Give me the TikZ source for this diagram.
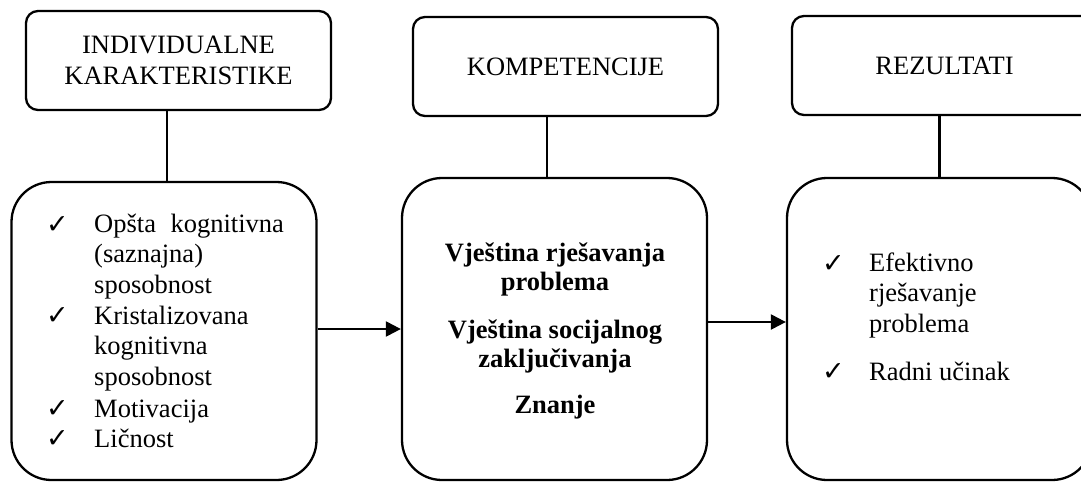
\documentclass[tikz,border=0pt]{standalone}
\usepackage{fontspec}
\setmainfont{Liberation Serif}
\newfontfamily\symfont{DejaVu Sans}
\usetikzlibrary{arrows.meta}

\newcommand{\tick}{{\symfont\fontsize{27}{27}\selectfont ✓}}

\tikzset{
  frame/.style={draw=black, line width=2.3pt, inner sep=0pt},
  headbox/.style={frame, rounded corners=12pt, minimum width=305pt, minimum height=99pt,
    align=center, font=\fontsize{26.5}{31}\selectfont},
  bodybox/.style={frame, rounded corners=40pt, minimum width=305pt},
  link/.style={draw=black, line width=2.3pt},
  flow/.style={link, -{Triangle[length=15pt, width=15pt]}},
  itemtext/.style={anchor=base west, inner sep=0pt, align=left,
    font=\fontsize{26.5}{30.5}\selectfont},
  tickmark/.style={anchor=base west, inner sep=0pt},
  boldtext/.style={anchor=base, inner sep=0pt, align=center,
    font=\bfseries\fontsize{26.5}{29}\selectfont}
}

\begin{document}
\begin{tikzpicture}[x=1pt, y=-1pt]
\useasboundingbox (0,0) rectangle (1081,482);
\clip (0,0) rectangle (1081,482);

% header boxes
\node[headbox] (t1) at (178.5,60.5) {INDIVIDUALNE\\KARAKTERISTIKE};
\node[headbox] (t2) at (565.5,66.5) {KOMPETENCIJE};
\node[headbox] (t3) at (944.5,65.5) {REZULTATI};

% body boxes
\node[bodybox, minimum height=298pt] (b1) at (164,331) {};
\node[bodybox, minimum height=302pt] (b2) at (554.5,329) {};
\node[bodybox, minimum height=302pt] (b3) at (939.5,329) {};

% vertical links between header and body
\draw[link] ([xshift=3pt]b1.north |- t1.south) -- ([xshift=3pt]b1.north);
\draw[link] ([xshift=-7.5pt]b2.north |- t2.south) -- ([xshift=-7.5pt]b2.north);
\draw[link] (b3.north |- t3.south) -- (b3.north);

% flow arrows
\draw[flow] (b1.east |- b2.west) -- (b2.west);
\draw[flow] ([yshift=7pt]b2.east) -- ([yshift=7pt]b3.west);

% individual characteristics (multi-line nodes sit on the baseline of their last line)
\node[tickmark] (c1) at (46,233) {\tick};
\node[itemtext] (i1) at (94,293) {Opšta\hspace{0.55em}kognitivna\\(saznajna)\\sposobnost};
\node[tickmark] (c2) at (46,324) {\tick};
\node[itemtext] (i2) at (94,385) {Kristalizovana\\kognitivna\\sposobnost};
\node[tickmark] (c3) at (46,417) {\tick};
\node[itemtext] (i3) at (94,417) {Motivacija};
\node[tickmark] (c4) at (46,447) {\tick};
\node[itemtext] (i4) at (94,447) {Ličnost};

% competencies
\node[boldtext] (m1) at (555,290) {Vještina rješavanja\\problema};
\node[boldtext] (m2) at (555,367) {Vještina socijalnog\\zaključivanja};
\node[boldtext] (m3) at (555,413) {Znanje};

% results
\node[tickmark] (c5) at (822,272) {\tick};
\node[itemtext] (r1) at (869,332) {Efektivno\\rješavanje\\problema};
\node[tickmark] (c6) at (822,380) {\tick};
\node[itemtext] (r2) at (869,380) {Radni učinak};
\end{tikzpicture}
\end{document}
